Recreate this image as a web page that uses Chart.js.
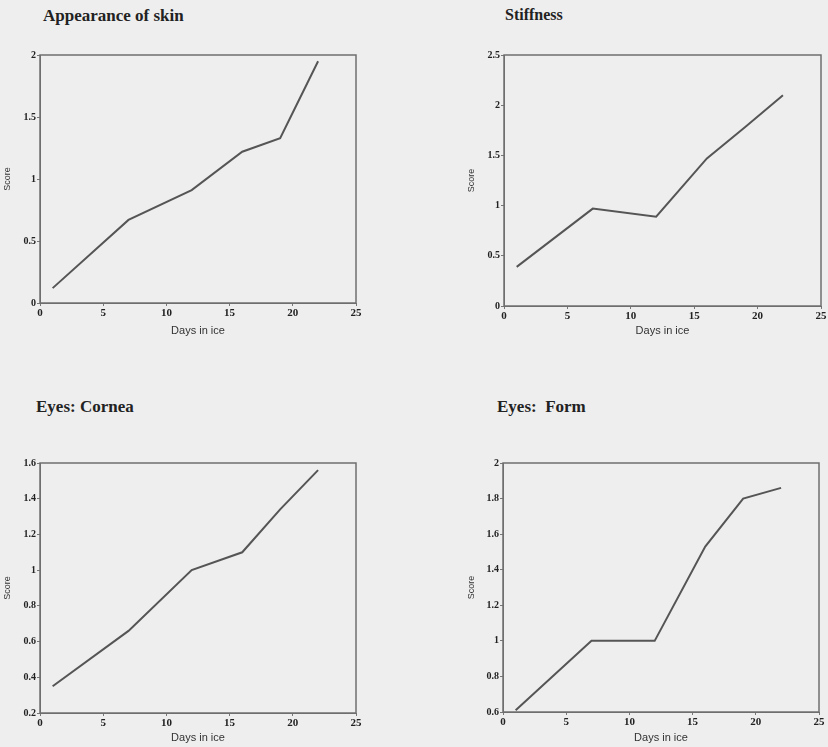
<!DOCTYPE html>
<html>
<head>
<meta charset="utf-8">
<script src="https://cdn.jsdelivr.net/npm/chart.js@4"></script>
<style>
  body { margin: 0; background: #eeeeee; width: 828px; height: 747px; overflow: hidden; position: relative; }
  .titulo { position: absolute; font-family: "Liberation Serif", serif; font-weight: bold; font-size: 17px; color: #222; white-space: pre; }
  .caja { position: absolute; }
</style>
</head>
<body>
<div class="titulo" style="left:43px; top:6px;">Appearance of skin</div>
<div class="titulo" style="left:505px; top:6px; font-size:16px;">Stiffness</div>
<div class="titulo" style="left:36px; top:397px;">Eyes: Cornea</div>
<div class="titulo" style="left:497px; top:397px;">Eyes:  Form</div>

<div class="caja" style="left:0px; top:40px; width:372px; height:300px;"><canvas id="g1"></canvas></div>
<div class="caja" style="left:464px; top:40px; width:364px; height:300px;"><canvas id="g2"></canvas></div>
<div class="caja" style="left:0px; top:448px; width:372px; height:299px;"><canvas id="g3"></canvas></div>
<div class="caja" style="left:464px; top:448px; width:364px; height:299px;"><canvas id="g4"></canvas></div>

<script>
// dias en hielo (eje x) y puntuaciones
const dias = [1, 7, 12, 16, 19, 22];
const pielScores = [0.12, 0.67, 0.91, 1.22, 1.33, 1.95];
const rigidezScores = [0.39, 0.97, 0.89, 1.47, 1.78, 2.1];
const corneaScores = [0.35, 0.66, 1.0, 1.1, 1.34, 1.56];
const formaScores = [0.61, 1.0, 1.0, 1.53, 1.8, 1.86];

const diasMin = 0, diasMax = 25, diasPaso = 5;

// marco alrededor del area de trazado
const marco = {
    id: 'marco',
    afterDraw(chart) {
        const a = chart.chartArea;
        const ctx = chart.ctx;
        ctx.save();
        ctx.strokeStyle = '#6f6f6f';
        ctx.lineWidth = 1.5;
        ctx.strokeRect(a.left, a.top, a.right - a.left, a.bottom - a.top);
        ctx.restore();
    }
};

// "1" en vez de "1.0", como en la figura
const etiqueta = v => String(Number(v.toFixed(2)));

function crearGrafico(id, valores, yMin, yMax, yPaso, anchoY, altoX, pad) {
    const ctx = document.getElementById(id).getContext('2d');
    return new Chart(ctx, {
        type: 'line',
        data: {
            datasets: [{
                data: dias.map((d, i) => ({ x: d, y: valores[i] })),
                borderColor: '#555555',
                borderWidth: 2,
                pointRadius: 0,
                tension: 0,
                fill: false
            }]
        },
        options: {
            responsive: true,
            maintainAspectRatio: false,
            animation: false,
            layout: { padding: pad },
            plugins: { legend: { display: false }, tooltip: { enabled: false } },
            scales: {
                x: {
                    type: 'linear',
                    min: diasMin, max: diasMax,
                    afterFit: s => { s.height = altoX; },
                    ticks: { stepSize: diasPaso, color: '#222', padding: 1, maxRotation: 0,
                        font: { family: 'Liberation Serif', weight: 'bold', size: 11 } },
                    grid: { drawOnChartArea: false, tickLength: 3, color: '#777' },
                    border: { color: '#6f6f6f' },
                    title: { display: true, text: 'Days in ice', color: '#333', padding: { top: 0, bottom: 2 },
                        font: { family: 'Liberation Sans', size: 11 } }
                },
                y: {
                    min: yMin, max: yMax,
                    afterFit: s => { s.width = anchoY; },
                    ticks: { stepSize: yPaso, color: '#222', padding: 1, callback: etiqueta,
                        font: { family: 'Liberation Serif', weight: 'bold', size: 10 } },
                    grid: { drawOnChartArea: false, tickLength: 3, color: '#777' },
                    border: { color: '#6f6f6f' },
                    title: { display: true, text: 'Score', color: '#333', padding: { top: 2, bottom: 0 },
                        font: { family: 'Liberation Sans', size: 9 } }
                }
            }
        },
        plugins: [marco]
    });
}

document.addEventListener('DOMContentLoaded', function () {
    crearGrafico('g1', pielScores, 0, 2, 0.5, 40, 37, { top: 15, right: 16, left: 0, bottom: 0 });
    crearGrafico('g2', rigidezScores, 0, 2.5, 0.5, 40, 34, { top: 15, right: 7, left: 0, bottom: 0 });
    crearGrafico('g3', corneaScores, 0.2, 1.6, 0.2, 40, 34, { top: 15, right: 16, left: 0, bottom: 0 });
    crearGrafico('g4', formaScores, 0.6, 2, 0.2, 39, 35, { top: 15, right: 9, left: 0, bottom: 0 });
});
</script>
</body>
</html>
